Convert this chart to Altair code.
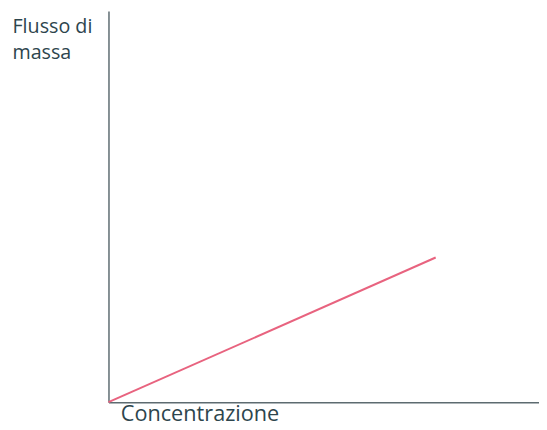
import altair as alt
import pandas as pd

x_vals = [0.0, 7.6]
y_vals = [0.0, 3.7]
x_title = "Concentrazione"
y_title = ["Flusso di", "massa"]

df = pd.DataFrame({"x": x_vals, "y": y_vals})

chart = alt.Chart(df).mark_line(color="#e8637f", strokeWidth=2).encode(
    x=alt.X("x:Q", scale=alt.Scale(domain=[0, 10], nice=False),
            axis=alt.Axis(title=x_title, grid=False, ticks=False, labels=False,
                          domainColor="#5d6b70", domainWidth=1.5,
                          titleX=12, titleY=19, titleAlign="left", titleBaseline="alphabetic",
                          titleFont="Open Sans", titleFontSize=22, titleFontWeight="normal",
                          titleColor="#2d454d")),
    y=alt.Y("y:Q", scale=alt.Scale(domain=[0, 10], nice=False),
            axis=alt.Axis(title=y_title, grid=False, ticks=False, labels=False,
                          domainColor="#5d6b70", domainWidth=1.5,
                          titleAngle=0, titleX=-98, titleY=22, titleAlign="left",
                          titleBaseline="alphabetic", titleLineHeight=26,
                          titleFont="Open Sans", titleFontSize=20, titleFontWeight="normal",
                          titleColor="#2d454d")),
).properties(
    width=437, height=397,
    autosize=alt.AutoSizeParams(type="none"),
    padding={"left": 102, "top": 0, "right": 0, "bottom": 22},
).configure(background="white").configure_view(strokeWidth=0, stroke="transparent")

chart.save("out.html", embed_options={"renderer": "svg", "actions": False})
